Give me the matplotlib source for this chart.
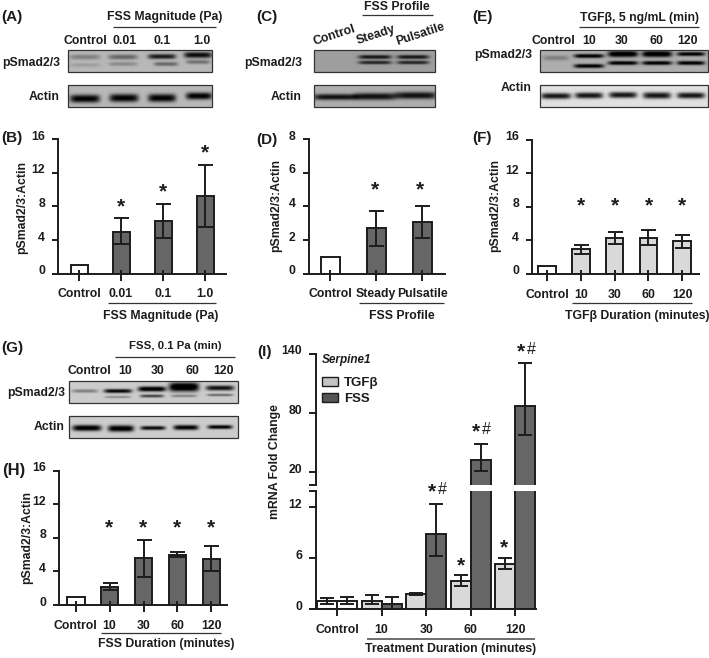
import numpy as np
import matplotlib
matplotlib.use('Agg')
import matplotlib.pyplot as plt
from matplotlib.patches import Patch, Rectangle
from matplotlib.transforms import ScaledTranslation

plt.rcParams['font.family'] = ['Liberation Sans', 'DejaVu Sans']
plt.rcParams['font.weight'] = 'bold'

W, H = 709, 658
INK = '#1c1c1c'
DARK = '#666666'
LIGHT = '#d9d9d9'
PX = 0.72  # points per pixel at dpi 100
LW = 1.4
FS = 8.8

# bar data, (B) (D) (F) (H)
b_labels = ['Control', '0.01', '0.1', '1.0']
b_values = [1, 5.0, 6.3, 9.2]
b_low = [1, 3.5, 4.2, 5.6]
b_high = [1, 6.6, 8.3, 12.9]

d_labels = ['Control', 'Steady', 'Pulsatile']
d_values = [1, 2.7, 3.1]
d_low = [1, 1.65, 2.15]
d_high = [1.02, 3.75, 4.0]

f_labels = ['Control', '10', '30', '60', '120']
f_values = [1, 3.0, 4.3, 4.3, 3.9]
f_low = [1, 2.4, 3.6, 3.5, 3.1]
f_high = [1, 3.5, 5.0, 5.2, 4.7]

h_labels = ['Control', '10', '30', '60', '120']
h_values = [1, 2.2, 5.6, 6.0, 5.5]
h_low = [1, 1.8, 3.3, 5.7, 4.0]
h_high = [1, 2.6, 7.8, 6.3, 7.0]

# (I) Serpine1
i_labels = ['Control', '10', '30', '60', '120']
i_tgf = [1.0, 1.0, 1.76, 3.33, 5.3]
i_tgf_low = [0.6, 0.6, 1.65, 2.7, 4.7]
i_tgf_high = [1.35, 1.6, 1.9, 4.0, 6.0]
i_fss = [1.0, 0.55, 8.86, 32, 87.5]
i_fss_low = [0.6, 0.0, 6.27, 21.5, 58]
i_fss_high = [1.45, 1.4, 12.35, 48, 131]

# blot bands: centre x, centre y, width, height, darkness
a_psmad = [(85, 57, 30, 5, .22), (85, 65, 30, 4, .1), (123, 57, 29, 5, .32), (123, 64, 28, 4, .18),
           (162, 56.5, 28, 5, .62), (166, 64, 24, 4, .32), (198, 55, 28, 6, .68), (198, 62, 24, 4, .28)]
a_actin = [(85, 98.7, 30, 8, .72), (124, 98, 29, 8, .72), (162, 98, 28, 8, .72), (199, 96, 26, 7, .72)]
c_psmad = [(375, 57, 33, 4, .55), (375, 62.5, 33, 3.5, .5), (413, 57, 32, 4, .55), (413, 62.5, 32, 3.5, .5)]
c_actin = [(335, 97, 44, 6, .62), (375, 96.5, 42, 7, .62), (416, 95.5, 42, 7, .62)]
e_psmad = [(556, 58, 26, 5, .18), (589, 56, 30, 4, .72), (589, 66, 30, 4, .72), (623, 54, 30, 6, .8),
           (623, 63, 30, 4, .72), (657, 54, 30, 6, .8), (657, 63, 30, 4, .72), (691, 54, 28, 4, .72), (691, 63, 28, 4, .72)]
e_actin = [(556, 96, 30, 6, .8), (589, 95.5, 28, 6, .8), (623, 95, 28, 6, .8), (657, 95.5, 28, 6.5, .8), (691, 95.5, 28, 6, .8)]
g_psmad = [(85, 391, 26, 3.5, .3), (118, 391, 28, 4, .8), (118, 397, 26, 2.5, .25), (152, 389, 28, 5, .88),
           (152, 396, 24, 3, .55), (184, 387, 30, 9, .95), (184, 396, 26, 2.5, .3), (220, 388, 28, 5, .75), (220, 395, 26, 2.5, .4)]
g_actin = [(87, 428, 29, 6, .85), (121, 428.5, 26, 6.5, .85), (153, 428, 25, 4, .78), (186, 427.5, 25, 5, .82), (220, 427, 25, 4, .82)]


def add_axes_px(left, right, top, bottom):
    return fig.add_axes([left / W, 1 - bottom / H, (right - left) / W, (bottom - top) / H])


def style_axes(ax, yticks, ylabels, tick_px=6):
    for s in ['top', 'right']:
        ax.spines[s].set_visible(False)
    for s in ['left', 'bottom']:
        ax.spines[s].set_linewidth(LW)
        ax.spines[s].set_color(INK)
    ax.patch.set_alpha(0)
    ax.set_yticks(yticks)
    ax.set_yticklabels(ylabels)
    ax.tick_params(axis='y', length=tick_px * PX, width=LW, color=INK, labelsize=FS, labelcolor=INK, pad=5)
    ax.tick_params(axis='x', length=7 * PX, width=LW, color=INK, labelsize=FS, labelcolor=INK, pad=5.5)
    # numbers sit a little above their ticks
    up = ScaledTranslation(0, 4 * PX / 72, fig.dpi_scale_trans)
    for lab in ax.get_yticklabels():
        lab.set_transform(lab.get_transform() + up)


def bar_panel(left, right, top, bottom, first, step, width, labels, values, low, high, ymax, yticks, ylabels, fills):
    ax = add_axes_px(left, right, top, bottom)
    x = np.arange(len(values))
    ax.bar(x, values, width / step, color=fills, edgecolor=INK, linewidth=LW, zorder=2)
    err = [np.array(values) - np.array(low), np.array(high) - np.array(values)]
    ax.errorbar(x[1:], values[1:], yerr=[err[0][1:], err[1][1:]], fmt='none', ecolor=INK,
                elinewidth=LW, capsize=5.4, capthick=LW, zorder=3)
    ax.set_xlim((left - first) / step, (right - first) / step)
    ax.set_ylim(0, ymax)
    ax.set_xticks(x)
    ax.set_xticklabels(labels)
    # the ticks also poke up a little into the bars
    ax.xaxis.remove_overlapping_locs = False
    ax.set_xticks(x, minor=True)
    ax.tick_params(axis='x', which='minor', direction='in', length=4 * PX, width=LW, color=INK)
    ax.set_axisbelow(False)
    style_axes(ax, yticks, ylabels)
    return ax


def draw_blot(x0, y0, x1, y1, bg, bands):
    xs = np.arange(x0, x1, 0.5) + 0.25
    ys = np.arange(y0, y1, 0.5) + 0.25
    xx, yy = np.meshgrid(xs, ys)
    img = np.full(xx.shape, float(bg))
    for cx, cy, w, h, d in bands:
        img -= d * np.exp(-np.abs((xx - cx) / (w / 2)) ** 6 - np.abs((yy - cy) / (h / 2)) ** 2.4)
    over.imshow(np.clip(img, 0, 1), cmap='gray', vmin=0, vmax=1, extent=(x0, x1, y1, y0),
                aspect='auto', interpolation='bilinear')
    over.add_patch(Rectangle((x0, y0), x1 - x0, y1 - y0, fill=False, edgecolor='#333333', linewidth=0.9))


def label(x, y, s, size=FS, ha='center', **kw):
    over.text(x, y, s, fontsize=size, ha=ha, va='center', color=INK, **kw)


def rule(x0, x1, y, lw=0.9, color='#333333'):
    over.plot([x0, x1], [y, y], color=color, linewidth=lw, solid_capstyle='butt')


def star(x, y):
    over.text(x, y, '*', fontsize=15, ha='center', va='center', color=INK)


fig = plt.figure(figsize=(W / 100, H / 100), dpi=100)
over = fig.add_axes([0, 0, 1, 1], zorder=5)
over.patch.set_alpha(0)

# western blots
draw_blot(68, 50, 212, 72, .72, a_psmad)
draw_blot(68, 85, 212, 107, .72, a_actin)
draw_blot(314, 50, 435, 72, .62, c_psmad)
draw_blot(314, 85, 435, 107, .68, c_actin)
draw_blot(540, 50, 708, 72, .68, e_psmad)
draw_blot(540, 85, 708, 107, .88, e_actin)
draw_blot(69, 381, 238, 403, .8, g_psmad)
draw_blot(69, 416, 238, 438, .8, g_actin)

# bar panels
t16 = [0, 4, 8, 12, 16]
bar_panel(58, 226, 139.3, 273.7, 79, 42, 17, b_labels, b_values, b_low, b_high, 16, t16, t16, ['white', DARK, DARK, DARK])
bar_panel(308.7, 445, 139.3, 273.7, 330, 46, 19, d_labels, d_values, d_low, d_high, 8, [0, 2, 4, 6, 8], [0, 2, 4, 6, 8], ['white', DARK, DARK])
bar_panel(532, 699, 140, 274, 547, 33.8, 17.5, f_labels, f_values, f_low, f_high, 16, t16, t16, ['white'] + [LIGHT] * 4)
bar_panel(59, 227, 470.7, 605, 75.7, 33.9, 17.6, h_labels, h_values, h_low, h_high, 16, t16, t16, ['white'] + [DARK] * 4)

# (I), broken axis: two axes with a gap
i_first, i_step, i_w = 337, 44.6, 20
i_left, i_right = 316, 536
low_top = 13.9
ax_lo = add_axes_px(i_left, i_right, 491, 609)
ax_hi = add_axes_px(i_left, i_right, 354, 485)
x = np.arange(len(i_labels))
offset = i_w / i_step / 2
fills_tgf = ['white', LIGHT, LIGHT, LIGHT, LIGHT]
fills_fss = ['white', DARK, DARK, DARK, DARK]
for ax in (ax_lo, ax_hi):
    ax.bar(x - offset, i_tgf, i_w / i_step, color=fills_tgf, edgecolor=INK, linewidth=LW, zorder=2)
fss = np.array(i_fss)
fss_low = np.array(i_fss_low)
fss_high = np.array(i_fss_high)
tall = fss > low_top
ax_lo.bar(x + offset, fss, i_w / i_step, color=fills_fss, edgecolor=INK, linewidth=LW, zorder=2)
ax_hi.bar(x[tall] + offset, fss[tall], i_w / i_step, color=DARK, edgecolor=INK, linewidth=LW, zorder=2)
tgf = np.array(i_tgf)
ax_lo.errorbar(x - offset, tgf, yerr=[tgf - np.array(i_tgf_low), np.array(i_tgf_high) - tgf], fmt='none',
               ecolor=INK, elinewidth=LW, capsize=4.8, capthick=LW, zorder=3)
ax_lo.errorbar(x[~tall] + offset, fss[~tall], yerr=[fss[~tall] - fss_low[~tall], fss_high[~tall] - fss[~tall]],
               fmt='none', ecolor=INK, elinewidth=LW, capsize=4.8, capthick=LW, zorder=3)
ax_hi.errorbar(x[tall] + offset, fss[tall], yerr=[fss[tall] - fss_low[tall], fss_high[tall] - fss[tall]],
               fmt='none', ecolor=INK, elinewidth=LW, capsize=4.8, capthick=LW, zorder=3)
for ax in (ax_lo, ax_hi):
    ax.set_xlim((i_left - i_first) / i_step, (i_right - i_first) / i_step)
ax_lo.set_ylim(0, low_top)
ax_hi.set_ylim(6.8, 140)
ax_lo.set_xticks(x)
ax_lo.set_xticklabels(i_labels)
style_axes(ax_lo, [0, 6, 12], [0, 6, 12], 7)
style_axes(ax_hi, [20, 80, 140], [20, 80, 140], 7)
ax_lo.tick_params(axis='x', pad=6)
ax_hi.spines['bottom'].set_visible(False)
ax_hi.set_xticks([])
ax_lo.set_yticks([low_top], minor=True)
ax_hi.set_yticks([6.8], minor=True)
ax_lo.tick_params(axis='y', which='minor', length=7 * PX, width=LW, color=INK)
ax_hi.tick_params(axis='y', which='minor', length=7 * PX, width=LW, color=INK)
ax_hi.legend(handles=[Patch(facecolor='#c4c4c4', edgecolor=INK, label='TGFβ'), Patch(facecolor='#555555', edgecolor=INK, label='FSS')],
             loc='upper left', bbox_to_anchor=(0.027, 0.825), frameon=False, fontsize=9.5, handlelength=1.2, handleheight=0.7,
             handletextpad=0.45, labelspacing=0.28, borderpad=0, borderaxespad=0, labelcolor=INK)

# panel letters
for x0, y0, s, size in [(1, 17, '(A)', 11), (1, 138, '(B)', 11), (256, 17, '(C)', 11), (256, 140, '(D)', 11),
                        (472, 17, '(E)', 11), (472, 138, '(F)', 11), (1, 348, '(G)', 11), (2, 470, '(H)', 12), (257, 352, '(I)', 11)]:
    label(x0, y0, s, size, ha='left')

# blot text
for xr, y1, y2 in [(60, 63, 97), (302, 63, 97), (532, 55, 88), (65, 393, 427)]:
    label(xr, y1, 'pSmad2/3', ha='right')
    label(xr, y2, 'Actin', ha='right')

label(165, 17, 'FSS Magnitude (Pa)')
rule(113, 216, 27)
for cx, s in zip([85, 125, 162, 202], b_labels):
    label(cx, 41, s)

label(397, 7, 'FSS Profile')
rule(362, 433, 15)
for cx, cy, s in zip([334, 376, 420], [35, 35, 34], d_labels):
    label(cx, cy, s, rotation=18)

label(639, 18, 'TGFβ, 5 ng/mL (min)')
rule(579, 699, 27)
for cx, s in zip([553, 589, 622, 656, 687], f_labels):
    label(cx, 41, s)

label(175, 346, 'FSS, 0.1 Pa (min)', 8.2)
rule(115, 235, 357)
for cx, s in zip([89, 125, 158, 192, 224], h_labels):
    label(cx, 371, s)

# axis titles and rules under the bar panels
for xc, yc in [(22, 207), (276, 205), (495, 206), (27, 537)]:
    label(xc, yc, 'pSmad2/3:Actin', rotation=90)
label(275, 462, 'mRNA Fold Change', rotation=90)

rule(108, 216, 303)
label(161, 316, 'FSS Magnitude (Pa)')
rule(359, 444, 303)
label(402, 316, 'FSS Profile')
rule(572, 692, 303)
label(637, 316, 'TGFβ Duration (minutes)')
rule(101, 221, 633)
label(166, 644, 'FSS Duration (minutes)')
rule(367, 535, 639, lw=1.2, color='#555555')
label(451, 649, 'Treatment Duration (minutes)')

# significance marks
for cx, cy in [(121, 207), (163, 192), (205, 153), (375, 190), (420, 190), (581, 206), (615, 206), (649, 206), (682, 206),
               (109, 528), (143, 528), (177, 528), (211, 528), (461, 566), (504, 548)]:
    star(cx, cy)
for cx, cy in [(437, 492), (481, 432), (526, 352)]:
    star(cx - 5, cy)
    label(cx + 5, cy - 3, '#', 11.5, fontweight='normal')

label(322, 360, 'Serpine1', 8.5, ha='left', style='italic')

over.set_xlim(0, W)
over.set_ylim(H, 0)
over.axis('off')
fig.savefig('out.png', dpi=100)
